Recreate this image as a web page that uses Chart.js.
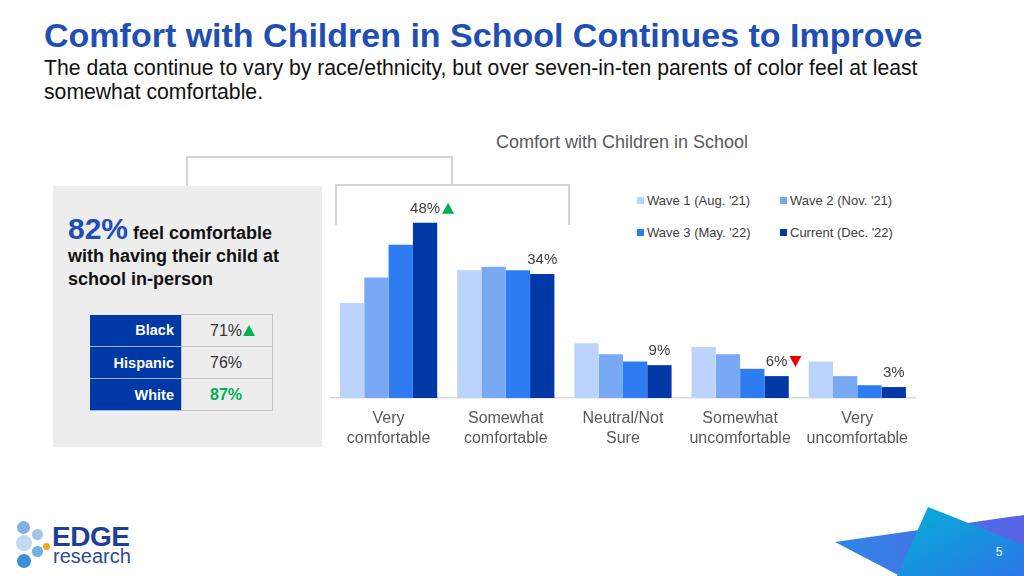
<!DOCTYPE html>
<html>
<head>
<meta charset="utf-8">
<script src="https://cdn.jsdelivr.net/npm/chart.js@4.4.0/dist/chart.umd.min.js"></script>
<style>
  body { margin: 0; width: 1024px; height: 576px; overflow: hidden; background: #fff; font-family: "Liberation Sans", Arial, sans-serif; position: relative; }
  .abs { position: absolute; }
  #title { left: 44px; top: 16px; font-size: 34px; font-weight: bold; color: #1f4fb5; white-space: nowrap; }
  #sub { left: 44px; top: 56px; font-size: 21.2px; line-height: 24px; color: #111; width: 910px; }
  #chartTitle { left: 496px; top: 132px; font-size: 18px; color: #595959; white-space: nowrap; }
  #panel { left: 53px; top: 186px; width: 269px; height: 261px; background: #ededed; }
  #big { left: 68px; top: 217px; font-size: 18px; line-height: 23px; font-weight: bold; color: #111; width: 240px; }
  #big .pct { font-size: 30px; color: #1f4fb5; }
  table.race { position: absolute; left: 90px; top: 314px; border-collapse: collapse; }
  table.race td { height: 31px; padding: 0; font-size: 16px; }
  table.race td.lab { width: 84px; background: #0039a6; color: #fff; font-weight: bold; text-align: right; padding-right: 7px; font-size: 14.5px; border-bottom: 1px solid #9fb6e0; }
  table.race td.val { width: 62px; padding-left: 28px; background: #ededed; color: #333; border: 1px solid #c4c4c4; }
  .up { display: inline-block; width: 0; height: 0; border-left: 6px solid transparent; border-right: 6px solid transparent; border-bottom: 11px solid #00b050; margin-left: 1px; }
  #legend { left: 637px; top: 193px; width: 290px; font-size: 13px; color: #404040; }
  .li { position: absolute; white-space: nowrap; }
  .li span.box { display: inline-block; width: 7px; height: 7px; margin-right: 3px; vertical-align: 1px; }
  #chartWrap { left: 330px; top: 190px; width: 589px; height: 270px; }
  .dot { position: absolute; border-radius: 50%; }
</style>
</head>
<body>
<div id="title" class="abs">Comfort with Children in School Continues to Improve</div>
<div id="sub" class="abs">The data continue to vary by race/ethnicity, but over seven-in-ten parents of color feel at least somewhat comfortable.</div>
<div id="chartTitle" class="abs">Comfort with Children in School</div>

<svg class="abs" style="left:0;top:0" width="1024" height="576">
  <polyline points="187,186 187,157 452,157 452,185" fill="none" stroke="#d4d4d4" stroke-width="2"/>
  <polyline points="336,225 336,185 569,185 569,225" fill="none" stroke="#d4d4d4" stroke-width="2"/>
  <defs>
    <linearGradient id="g1" x1="0" y1="0" x2="1" y2="0">
      <stop offset="0" stop-color="#2f86e6"/><stop offset="1" stop-color="#5a63e6"/>
    </linearGradient>
    <linearGradient id="g2" x1="0" y1="0" x2="1" y2="1">
      <stop offset="0" stop-color="#06aed6"/><stop offset="1" stop-color="#2a78e8"/>
    </linearGradient>
  </defs>
  <polygon points="835,542 1024,515 1024,576 900,576" fill="url(#g1)"/>
  <polygon points="928,507 1024,545 1024,576 897,576" fill="url(#g2)"/>
  <text x="999" y="556" fill="#fff" font-size="12" text-anchor="middle" font-family="Liberation Sans, Arial">5</text>
</svg>

<div id="panel" class="abs"></div>
<div id="big" class="abs"><span class="pct">82%</span> feel comfortable with having their child at school in-person</div>
<table class="race" id="raceTable"></table>

<div id="legend" class="abs"></div>
<div id="chartWrap" class="abs"><canvas id="chart" width="589" height="270"></canvas></div>

<div class="abs" style="left:0;top:505px;width:160px;height:70px">
  <div class="dot" style="left:17px;top:16px;width:13px;height:13px;background:#7fb1e3"></div>
  <div class="dot" style="left:16px;top:30px;width:16px;height:16px;background:#c3dbf0"></div>
  <div class="dot" style="left:32px;top:24px;width:11px;height:11px;background:#9cc6ea"></div>
  <div class="dot" style="left:43px;top:38px;width:7px;height:7px;background:#f5a623"></div>
  <div class="dot" style="left:32px;top:41px;width:11px;height:11px;background:#6fb0e6"></div>
  <div class="dot" style="left:17px;top:49px;width:14px;height:14px;background:#3a8fd8"></div>
  <div class="abs" style="left:52px;top:16px;font-size:28px;font-weight:bold;color:#1d3f9a;letter-spacing:-0.5px">EDGE</div>
  <div class="abs" style="left:53px;top:40px;font-size:20px;color:#2a4b9b">research</div>
</div>

<script>
const categories = [['Very', 'comfortable'], ['Somewhat', 'comfortable'], ['Neutral/Not', 'Sure'], ['Somewhat', 'uncomfortable'], ['Very', 'uncomfortable']];
const seriesNames = ["Wave 1 (Aug. '21)", "Wave 2 (Nov. '21)", "Wave 3 (May. '22)", "Current (Dec. '22)"];
const seriesColors = ['#bcd4fb', '#79a8f5', '#2d7cf2', '#0039a6'];
const wave1 = [26, 35, 15, 14, 10];
const wave2 = [33, 36, 12, 12, 6];
const wave3 = [42, 35, 10, 8, 3.5];
const current = [48, 34, 9, 6, 3];
// significance markers on the current wave
const currentMarks = ['up', null, null, 'down', null];

const raceNames = ['Black', 'Hispanic', 'White'];
const raceValues = [71, 76, 87];
const raceMarks = ['up', null, 'high'];

// race table
const tbl = document.getElementById('raceTable');
raceNames.forEach((r, i) => {
  const tr = document.createElement('tr');
  let v = raceValues[i] + '%';
  if (raceMarks[i] === 'up') v += '<span class="up"></span>';
  if (raceMarks[i] === 'high') v = '<b style="color:#00b050">' + v + '</b>';
  tr.innerHTML = '<td class="lab">' + r + '</td><td class="val">' + v + '</td>';
  tbl.appendChild(tr);
});

// legend 2x2
const legend = document.getElementById('legend');
seriesNames.forEach((n, i) => {
  const d = document.createElement('div');
  d.className = 'li';
  d.style.left = (i % 2) * 143 + 'px';
  d.style.top = Math.floor(i / 2) * 32 + 'px';
  d.innerHTML = '<span class="box" style="background:' + seriesColors[i] + '"></span>' + n;
  legend.appendChild(d);
});

const labelPlugin = {
  id: 'currentLabels',
  afterDatasetsDraw(chart) {
    const ctx = chart.ctx;
    const meta = chart.getDatasetMeta(3);
    ctx.save();
    ctx.font = '15px "Liberation Sans", Arial';
    ctx.textAlign = 'center';
    ctx.textBaseline = 'middle';
    meta.data.forEach((bar, i) => {
      const txt = Math.round(current[i]) + '%';
      const y = bar.y - 14;
      ctx.fillStyle = '#404040';
      ctx.fillText(txt, bar.x, y);
      const w = ctx.measureText(txt).width;
      const tx = bar.x + w / 2 + 8;
      if (currentMarks[i] === 'up') {
        ctx.fillStyle = '#00b050';
        ctx.beginPath();
        ctx.moveTo(tx, y - 6); ctx.lineTo(tx + 6, y + 5); ctx.lineTo(tx - 6, y + 5);
        ctx.closePath(); ctx.fill();
      } else if (currentMarks[i] === 'down') {
        ctx.fillStyle = '#ee0000';
        ctx.beginPath();
        ctx.moveTo(tx - 6, y - 6); ctx.lineTo(tx + 6, y - 6); ctx.lineTo(tx, y + 5);
        ctx.closePath(); ctx.fill();
      }
    });
    ctx.restore();
  }
};

new Chart(document.getElementById('chart'), {
  type: 'bar',
  data: {
    labels: categories,
    datasets: [wave1, wave2, wave3, current].map((d, i) => ({
      label: seriesNames[i],
      data: d,
      backgroundColor: seriesColors[i],
      barPercentage: 1,
      categoryPercentage: 0.83
    }))
  },
  options: {
    responsive: false,
    animation: false,
    layout: { padding: 0 },
    plugins: { legend: { display: false }, tooltip: { enabled: false } },
    scales: {
      x: {
        grid: { display: false, drawTicks: false },
        border: { display: true, color: '#d9d9d9', width: 1.5 },
        ticks: { color: '#595959', font: { size: 16, family: '"Liberation Sans", Arial', lineHeight: 1.25 }, padding: 11, maxRotation: 0 }
      },
      y: { display: false, min: 0, max: 57 }
    }
  },
  plugins: [labelPlugin]
});
</script>
</body>
</html>
